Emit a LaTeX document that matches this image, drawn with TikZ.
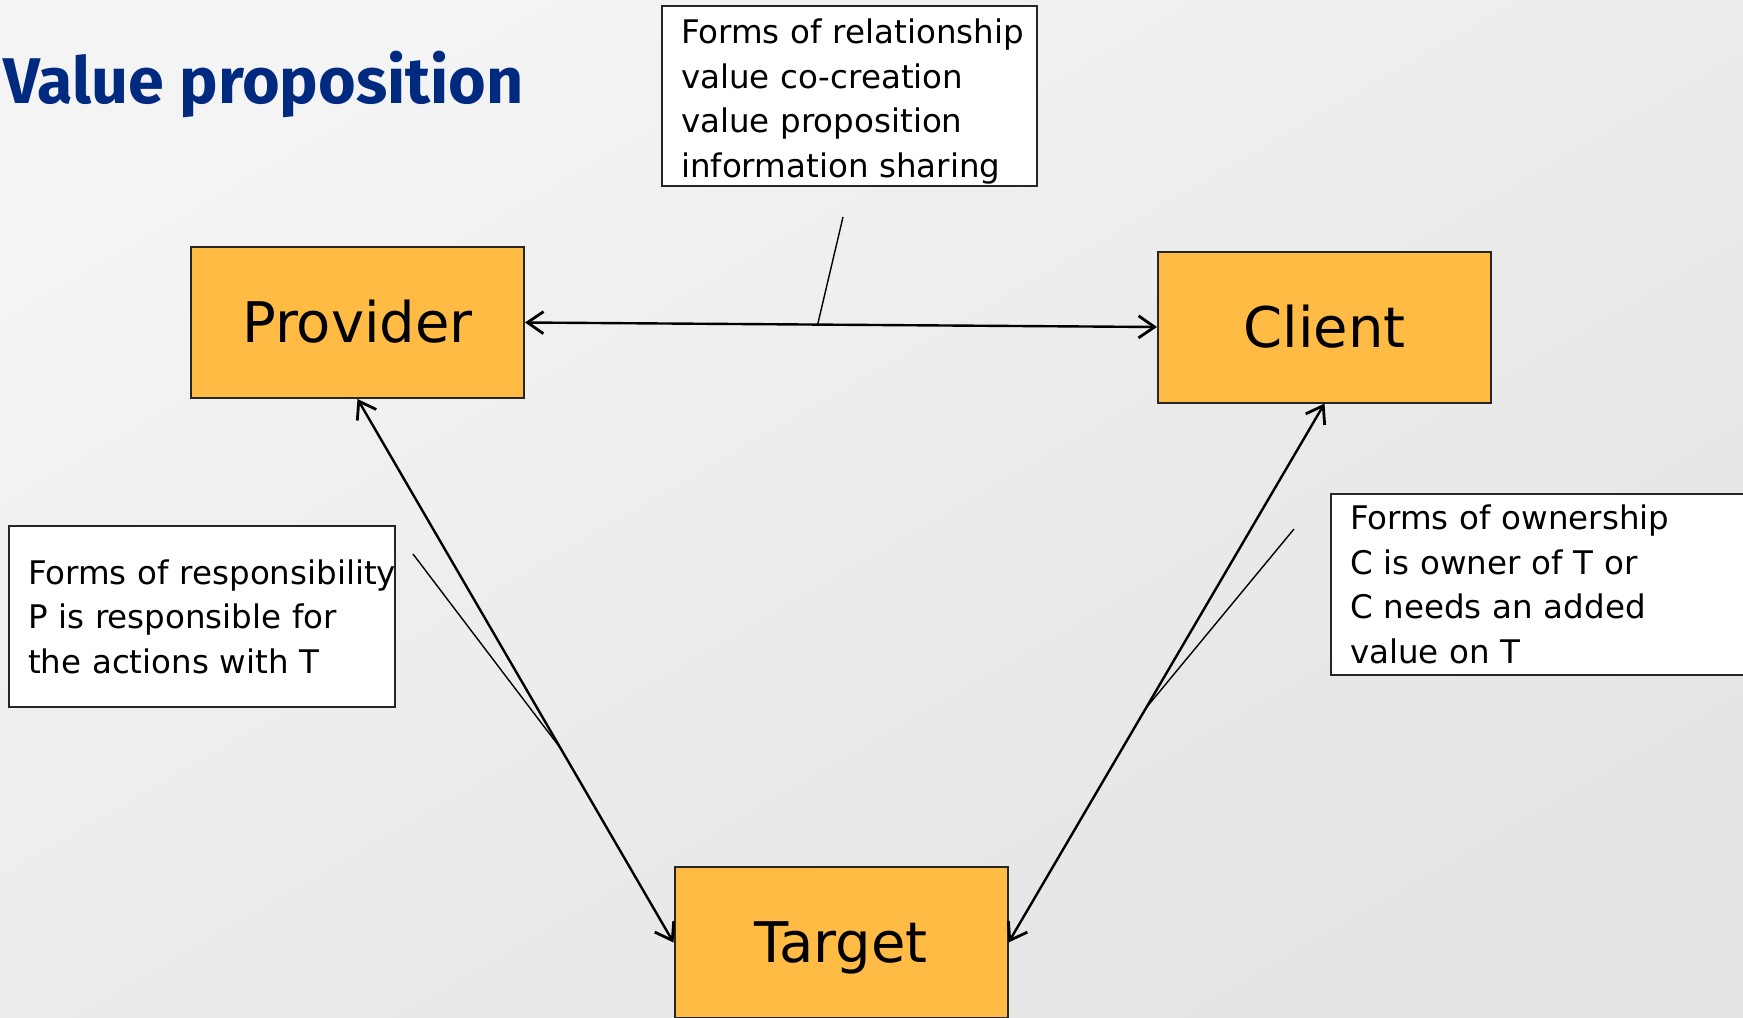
\documentclass[tikz,border=0pt]{standalone}
\usepackage{fontspec}
\setmainfont{DejaVu Sans}
\newfontfamily\titlefont{Fira Sans}
\usetikzlibrary{positioning, arrows.meta}
\definecolor{boxorange}{RGB}{255,187,68}
\definecolor{titleblue}{RGB}{0,41,128}
\definecolor{bglight}{RGB}{244,244,244}
\definecolor{bgdark}{RGB}{228,228,228}
\tikzset{
    party/.style={ % Provider, Client and Target boxes
        draw=black!85, line width=1pt,
        fill=boxorange,
        minimum width=166.5pt, minimum height=75.5pt,
        text height=20.4pt, text depth=0pt, % centre on the capitals
        font=\fontsize{28}{32}\selectfont
    },
    note/.style={ % White boxes with the explanations
        draw=black!85, line width=1pt,
        fill=white,
        inner xsep=9.5pt, inner ysep=2pt,
        align=left,
        font=\fontsize{16.25}{22.25}\selectfont
    },
    every edge/.style={ % Relations between the parties
        draw,
        <->, >={Straight Barb[length=8pt, width=11pt, line width=1.4pt]},
        line width=1.2pt
    },
    pointer/.style={line width=0.7pt}, % From a note to its relation
}

\begin{document}
\begin{tikzpicture}[x=0.5pt, y=-0.5pt]
    \useasboundingbox (0,0) rectangle (1743,1017);
    \shade[top color=bglight, bottom color=bgdark, shading angle=30]
        (0,0) rectangle (1743,1017);

    \node[anchor=base west, inner sep=0, text=titleblue,
          font=\titlefont\bfseries\fontsize{32.3}{36}\selectfont] (title) at (3,103) {Value proposition};

    \node[party]                                                   (provider) at (357.5,322.5) {Provider};
    \node[party, right of=provider, node distance=483.5pt, yshift=-2.25pt] (client)  {Client};
    \node[party]                                                   (target)   at (841,942.5)  {Target};

    \node[note, inner ysep=0pt, text width=168.5pt, minimum height=90pt] (relnote)  at (849.5,96)
        {\rule{0pt}{18pt}\mbox{Forms of relationship}\\\mbox{value co-creation}\\\mbox{value proposition}\\\mbox{information sharing}};
    \node[note, text width=174pt, minimum height=90.5pt] (respnote) at (202,616.5)
        {\mbox{Forms of responsibility}\\\mbox{P is responsible for}\\\mbox{the actions with T}};
    \node[note, text width=191pt, minimum height=90.5pt] (ownnote)  at (1541,584.5)
        {\mbox{Forms of ownership}\\\mbox{C is owner of T or}\\\mbox{C needs an added}\\\mbox{value on T}};

    \draw   (provider.east)  edge coordinate[pos=0.463] (rel)  (client.west)
            (provider.south) edge coordinate[pos=0.643] (resp) (target.west)
            (client.south)   edge coordinate[pos=0.565] (own)  (target.east)
    ;

    \coordinate (reltip)  at ([shift={(-6.5,30)}]relnote.south);
    \coordinate (resptip) at ([shift={(17,-62.5)}]respnote.east);
    \coordinate (owntip)  at ([shift={(-36,-55.5)}]ownnote.west);
    \draw[pointer] (reltip) -- (rel);
    \draw[pointer] (resptip) -- (resp);
    \draw[pointer] (owntip) -- (own);
\end{tikzpicture}
\end{document}
